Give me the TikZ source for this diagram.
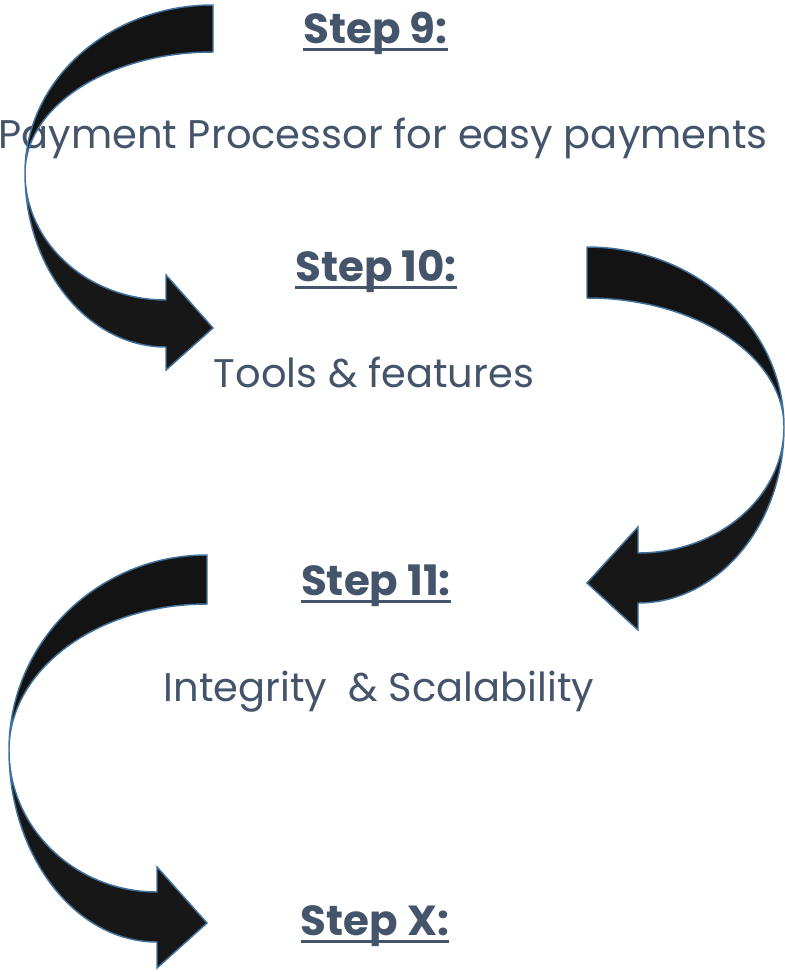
\documentclass[tikz,border=0pt]{standalone}
\usepackage{fontspec}
\setmainfont{Poppins}
\definecolor{txt}{HTML}{44546A}
\definecolor{arrfill}{HTML}{171717}
\definecolor{arrback}{HTML}{131313}
\definecolor{arrline}{HTML}{41719C}
\begin{document}
\begin{tikzpicture}[x=0.75pt,y=-0.75pt,
  body/.style={font=\fontsize{30}{36}\selectfont, text=txt, inner sep=0pt, anchor=base},
  steplbl/.style={body, font=\fontsize{31.5}{38}\selectfont\bfseries},
  ul/.style={draw=txt, line width=2.25pt},
  arr/.style={fill=arrfill, draw=arrline, line width=1.1pt, line join=miter},
  arrb/.style={arr, fill=arrback}]
\useasboundingbox (0,0) rectangle (785,972);
\clip (0,0) rectangle (785,972);
% texts
\node[steplbl] (s9) at (375.5,43) {Step 9:};
\draw[ul] ([yshift=-5.2pt]s9.base west) -- ([yshift=-5.2pt]s9.base east);
\node[body] (t9) at (383,148) {Payment Processor for easy payments};
\node[steplbl] (s10) at (376,281) {Step 10:};
\draw[ul] ([yshift=-5.2pt]s10.base west) -- ([yshift=-5.2pt]s10.base east);
\node[body] (t10) at (374,387) {Tools \& features};
\node[steplbl] (s11) at (376,595) {Step 11:};
\draw[ul] ([yshift=-5.2pt]s11.base west) -- ([yshift=-5.2pt]s11.base east);
\node[body] (t11) at (379,701) {Integrity\ \ \& Scalability};
\node[steplbl] (sx) at (375,935) {Step X:};
\draw[ul] ([yshift=-5.2pt]sx.base west) -- ([yshift=-5.2pt]sx.base east);
% arrow 1
\path[arrb] (213,5) -- (213,52) .. controls (109.2,52) and (25,106.2) .. (25,173)
  .. controls (25,80.2) and (109.2,5) .. (213,5) -- cycle;
\path[arr] (25,173) .. controls (25,269.1) and (88.1,347) .. (166,347) -- (166,370)
  -- (213,328) -- (166,275) -- (166,300) .. controls (88.1,300) and (25,243.1) .. (25,173) -- cycle;
% arrow 2
\path[arrb] (587,247) -- (587,298) .. controls (695.8,298) and (784,355.8) .. (784,427)
  .. controls (784,327.6) and (695.8,247) .. (587,247) -- cycle;
\path[arr] (784,427) .. controls (784,524.2) and (718.6,603) .. (638,603) -- (638,630)
  -- (587,583) -- (638,527) -- (638,553) .. controls (718.6,553) and (784,496.6) .. (784,427) -- cycle;
% arrow 3
\path[arrb] (207,555) -- (207,604) .. controls (97.6,604) and (9,669.4) .. (9,750)
  .. controls (9,642.3) and (97.6,555) .. (207,555) -- cycle;
\path[arr] (9,750) .. controls (9,856) and (75.3,942) .. (157,942) -- (157,968)
  -- (207,923) -- (157,867) -- (157,892) .. controls (75.3,892) and (9,828.4) .. (9,750) -- cycle;
\end{tikzpicture}
\end{document}
